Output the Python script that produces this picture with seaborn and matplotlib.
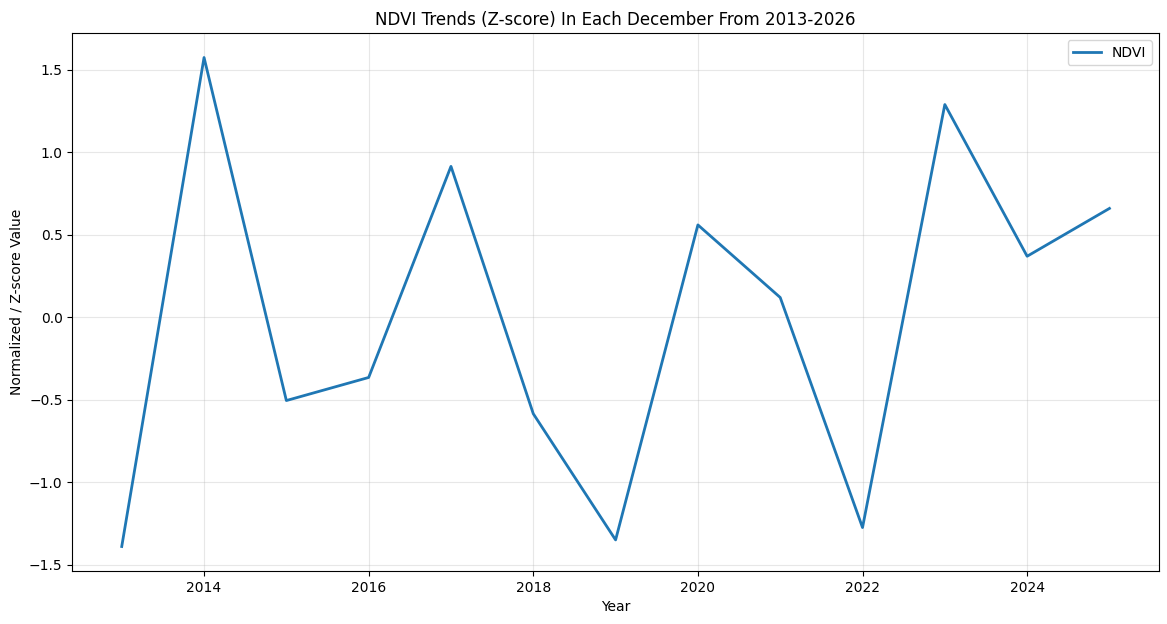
import matplotlib
matplotlib.use("Agg")
import matplotlib.pyplot as plt
import seaborn as sns
import pandas as pd

years = [2013, 2014, 2015, 2016, 2017, 2018, 2019, 2020, 2021, 2022, 2023, 2024, 2025]
ndvi = [-1.39, 1.575, -0.505, -0.365, 0.915, -0.585, -1.35, 0.56, 0.12, -1.275, 1.29, 0.37, 0.66]

df = pd.DataFrame({"Year": years, "NDVI": ndvi})

fig, ax = plt.subplots(figsize=(11.67, 6.24), dpi=100)
fig.subplots_adjust(left=0.062, right=0.993, top=0.947, bottom=0.085)
sns.lineplot(data=df, x="Year", y="NDVI", ax=ax, color="#1f77b4", linewidth=2, label="NDVI")
ax.set_title("NDVI Trends (Z-score) In Each December From 2013-2026")
ax.set_xlabel("Year")
ax.set_ylabel("Normalized / Z-score Value")
ax.grid(True, alpha=0.3)
ax.legend(loc="upper right")
fig.savefig("out.png", dpi=100)
